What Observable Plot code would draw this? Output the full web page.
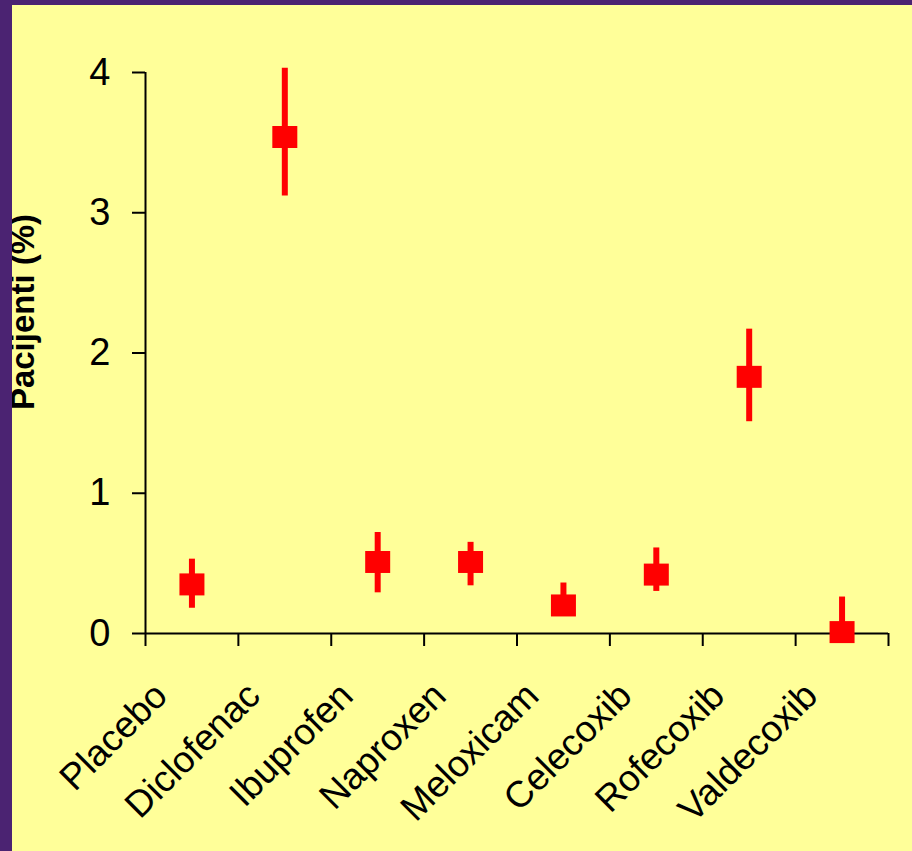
<!DOCTYPE html>
<html><head><meta charset="utf-8">
<script src="https://cdn.jsdelivr.net/npm/d3@7"></script>
<script src="https://cdn.jsdelivr.net/npm/@observablehq/plot@0.6"></script>
<style>
body{margin:0;}
#wrap{position:relative;width:912px;height:851px;background:#ffff99;overflow:hidden;}
#wrap svg{position:absolute;left:0;top:0;}
.bl{position:absolute;left:0;top:0;width:12px;height:851px;background:#4b2372;}
.bt{position:absolute;left:0;top:0;width:912px;height:5px;background:#4b2372;}
</style></head>
<body><div id="wrap"></div>
<script>
const categories = ["Placebo","Diclofenac","Ibuprofen","Naproxen","Meloxicam","Celecoxib","Rofecoxib","Valdecoxib"];
const values = [0.35, 3.54, 0.51, 0.51, 0.20, 0.42, 1.83, 0.01];
const lower  = [0.18, 3.12, 0.29, 0.34, 0.15, 0.30, 1.51, 0.00];
const upper  = [0.53, 4.03, 0.72, 0.65, 0.36, 0.61, 2.17, 0.26];
const yTicks = [0, 1, 2, 3, 4];
const yLabel = "Pacijenti (%)";

const data = categories.map((c, i) => ({c, pos: i + 0.5, v: values[i], lo: lower[i], hi: upper[i]}));
const boundaries = d3.range(categories.length + 1);

const rectSymbol = {draw(ctx) { const w = 12.5, h = 11; ctx.moveTo(-w, -h); ctx.lineTo(w, -h); ctx.lineTo(w, h); ctx.lineTo(-w, h); ctx.closePath(); }};

const font = "'Liberation Sans', Arial, sans-serif";
const chart = Plot.plot({
  width: 912, height: 851,
  marginLeft: 145, marginRight: 24, marginTop: 72, marginBottom: 218,
  style: {background: "transparent", fontFamily: font, overflow: "visible"},
  x: {type: "linear", domain: [0, categories.length], axis: null},
  y: {domain: [0, 4], axis: null},
  marks: [
    Plot.axisY(yTicks, {tickSize: 13, tickPadding: 22, fontSize: 38, strokeWidth: 2, stroke: "#000", tickFormat: d => String(d), label: null}),
    Plot.axisX(boundaries, {tickSize: 13, strokeWidth: 2, stroke: "#000", tickFormat: () => "", label: null}),
    Plot.ruleX([0], {stroke: "#000", strokeWidth: 2}),
    Plot.ruleY([0], {stroke: "#000", strokeWidth: 2}),
    Plot.ruleX(data, {x: "pos", y1: "lo", y2: "hi", stroke: "#ff0000", strokeWidth: 6}),
    Plot.dot(data, {x: "pos", y: "v", symbol: rectSymbol, fill: "#ff0000", stroke: "none"}),
    Plot.text(data, {x: "pos", y: () => 0, text: "c", rotate: -45, textAnchor: "end", lineAnchor: "middle", fontSize: 37, dx: -31, dy: 56, fill: "#000"}),
    Plot.text([yLabel], {text: d => d, frameAnchor: "left", rotate: -90, textAnchor: "middle", lineAnchor: "middle", fontSize: 33, fontWeight: "bold", dx: -122, dy: -41, fill: "#000"})
  ]
});
const wrap = document.getElementById("wrap");
wrap.appendChild(chart);
const bl = document.createElement("div"); bl.className = "bl"; wrap.appendChild(bl);
const bt = document.createElement("div"); bt.className = "bt"; wrap.appendChild(bt);
</script>
</body></html>
